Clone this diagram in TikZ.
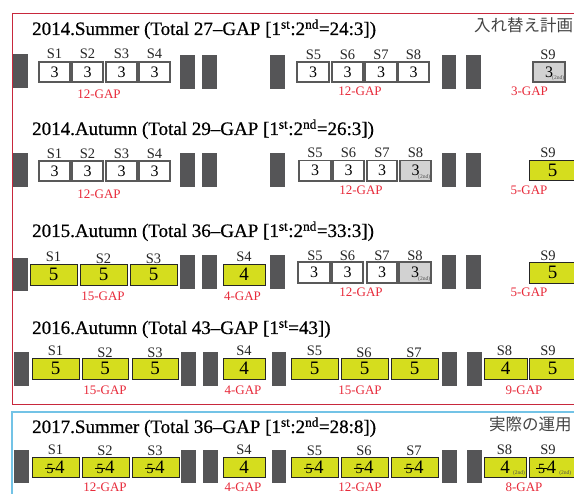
\documentclass[tikz,border=0pt]{standalone}
\usepackage{fontspec}
\setmainfont{Liberation Serif}
\newfontfamily\ttlfont[FakeBold=0.6]{Liberation Serif}
\newfontfamily\jpfont{Noto Sans CJK JP}
\newcommand\fs[1]{\fontsize{#1}{#1}\selectfont}
\newcommand\strk[1]{{\fs{14}\makebox[0pt][l]{\hspace{-0.12em}\rule[0.33em]{0.75em}{0.6pt}}#1}\kern1.5pt}
\definecolor{yel}{RGB}{213,221,30}
\definecolor{barc}{RGB}{85,85,87}
\definecolor{grayf}{RGB}{210,210,210}
\definecolor{redt}{RGB}{232,42,58}
\definecolor{redf}{RGB}{200,40,60}
\definecolor{bluef}{RGB}{115,195,230}
\definecolor{jpc}{RGB}{70,70,70}
\newcommand\bx[7]{\node[#1, minimum width={(#4)-(#3)}, minimum height={(#6)-(#5)}] (#2) at ({((#3)+(#4))/2},{((#5)+(#6))/2}) {#7};}
\tikzset{
  bar/.style={fill=barc, draw=none, inner sep=0pt},
  wbox/.style={fill=white, draw=black!65, line width=1.1pt, inner sep=0pt, font=\fs{16}},
  gbox/.style={wbox, fill=grayf},
  ybox/.style={fill=yel, draw=black!85, line width=0.9pt, inner sep=0pt, font=\fs{19}},
  val/.style={inner sep=0pt, font=\fs{19}},
  slab/.style={inner sep=0pt, font=\fs{14.5}, text=black!85},
  gap/.style={inner sep=0pt, text=redt, font=\fs{13}},
  ttl/.style={inner sep=0pt, anchor=base west, font=\ttlfont\fs{19}},
  nd/.style={inner sep=1.2pt, font=\fs{5.5}, text=black!70},
  nd2/.style={label={[nd, anchor=south east]south east:(2nd)}},
  jpl/.style={inner sep=0pt, anchor=west, text=jpc, font=\jpfont\fs{16.5}},
  redframe/.style={draw=redf, line width=0.9pt},
  blueframe/.style={draw=bluef, line width=1.3pt},
}
\begin{document}
\begin{tikzpicture}[x=1pt,y=-1pt]
\useasboundingbox (0,0) rectangle (574,494);
\clip (0,0) rectangle (574,494);
\fill[white] (0,0) rectangle (574,494);
% frames
\coordinate (rf1) at (580,13); \coordinate (rf2) at (12,13);
\coordinate (rf3) at (12,404); \coordinate (rf4) at (580,404);
\draw[redframe] (rf1) -- (rf2) -- (rf3) -- (rf4);
\coordinate (bf1) at (580,412); \coordinate (bf2) at (12,412); \coordinate (bf3) at (12,500);
\draw[blueframe] (bf1) -- (bf2) -- (bf3);
\node[jpl] (jp1) at (474,25) {入れ替え計画};
\node[jpl] (jp2) at (489,424) {実際の運用};
% ---------------- Row 1
\node[ttl] (t1) at (32,35) {2014.Summer (Total 27–GAP [1\textsuperscript{st}:2\textsuperscript{nd}=24:3])};
\bx{bar}{r1a}{13}{28}{54}{88}{}
\bx{bar}{r1b}{180}{195}{55}{89}{}
\bx{bar}{r1c}{202}{217}{55}{89}{}
\bx{bar}{r1d}{270}{285}{55}{89}{}
\bx{bar}{r1e}{442}{456}{55}{89}{}
\bx{bar}{r1f}{466}{481}{55}{89}{}
\bx{wbox}{r1s1}{39}{70}{62}{82}{3}
\bx{wbox}{r1s2}{72}{103}{62}{82}{3}
\bx{wbox}{r1s3}{106}{137}{62}{82}{3}
\bx{wbox}{r1s4}{139}{170}{62}{82}{3}
\bx{wbox}{r1s5}{297}{329}{62}{82}{3}
\bx{wbox}{r1s6}{332}{363}{62}{82}{3}
\bx{wbox}{r1s7}{365}{397}{62}{82}{3}
\bx{wbox}{r1s8}{398}{429}{62}{82}{3}
\bx{gbox,nd2}{r1s9}{533}{565}{62}{82}{3\hspace{9pt}}
\node[slab] (r1l1) at (54.5,54) {S1};
\node[slab] (r1l2) at (87.5,54) {S2};
\node[slab] (r1l3) at (121.5,54) {S3};
\node[slab] (r1l4) at (154.5,54) {S4};
\node[slab] (r1l5) at (313.5,54.5) {S5};
\node[slab] (r1l6) at (347.5,54.5) {S6};
\node[slab] (r1l7) at (381,54.5) {S7};
\node[slab] (r1l8) at (413.5,54.5) {S8};
\node[slab] (r1l9) at (548,54.5) {S9};
\node[gap] (r1g1) at (99,94) {12-GAP};
\node[gap] (r1g2) at (360,91.5) {12-GAP};
\node[gap] (r1g3) at (529.5,91.5) {3-GAP};
% ---------------- Row 2
\node[ttl] (t2) at (32,135) {2014.Autumn (Total 29–GAP [1\textsuperscript{st}:2\textsuperscript{nd}=26:3])};
\bx{bar}{r2a}{13}{28}{153}{187}{}
\bx{bar}{r2b}{180}{195}{153}{187}{}
\bx{bar}{r2c}{202}{217}{153}{187}{}
\bx{bar}{r2d}{270}{285}{153}{187}{}
\bx{bar}{r2e}{442}{456}{153}{187}{}
\bx{bar}{r2f}{466}{481}{153}{187}{}
\bx{wbox}{r2s1}{39}{70}{161}{181}{3}
\bx{wbox}{r2s2}{72}{103}{161}{181}{3}
\bx{wbox}{r2s3}{106}{137}{161}{181}{3}
\bx{wbox}{r2s4}{139}{170}{161}{181}{3}
\bx{wbox}{r2s5}{299}{331}{160.5}{181}{3}
\bx{wbox}{r2s6}{333}{364}{160.5}{181}{3}
\bx{wbox}{r2s7}{367}{397}{160.5}{181}{3\hspace{10pt}}
\bx{gbox,nd2}{r2s8}{400}{431}{160.5}{181}{3\hspace{13pt}}
\bx{ybox}{r2s9}{529}{576}{160}{180.5}{5}
\node[slab] (r2l1) at (54.5,154) {S1};
\node[slab] (r2l2) at (87.5,154) {S2};
\node[slab] (r2l3) at (121.5,154) {S3};
\node[slab] (r2l4) at (154.5,154) {S4};
\node[slab] (r2l5) at (315,153) {S5};
\node[slab] (r2l6) at (348.5,153) {S6};
\node[slab] (r2l7) at (382,153) {S7};
\node[slab] (r2l8) at (415.5,153) {S8};
\node[slab] (r2l9) at (548,153) {S9};
\node[gap] (r2g1) at (99,194.5) {12-GAP};
\node[gap] (r2g2) at (361,190.5) {12-GAP};
\node[gap] (r2g3) at (529,190.5) {5-GAP};
% ---------------- Row 3
\node[ttl] (t3) at (32,237) {2015.Autumn (Total 36–GAP [1\textsuperscript{st}:2\textsuperscript{nd}=33:3])};
\bx{bar}{r3a}{13}{28}{258}{291}{}
\bx{bar}{r3b}{180}{195}{255}{289}{}
\bx{bar}{r3c}{202}{217}{255}{289}{}
\bx{bar}{r3d}{270}{285}{255}{289}{}
\bx{bar}{r3e}{442}{456}{255}{289}{}
\bx{bar}{r3f}{466}{481}{255}{289}{}
\bx{ybox}{r3s1}{30}{77}{264}{285}{5}
\bx{ybox}{r3s2}{80}{127}{264}{285}{5}
\bx{ybox}{r3s3}{130}{177}{264}{285}{5}
\bx{ybox}{r3s4}{223}{265}{264}{285}{4}
\bx{wbox}{r3s5}{298}{330}{262}{283}{3}
\bx{wbox}{r3s6}{332}{363}{262}{283}{3}
\bx{wbox}{r3s7}{367}{397}{262}{283}{3\hspace{4pt}}
\bx{gbox,nd2}{r3s8}{399}{431}{262}{283}{3\hspace{14pt}}
\bx{ybox}{r3s9}{529}{576}{262}{283}{5}
\node[slab] (r3l1) at (53.5,257) {S1};
\node[slab] (r3l2) at (103.5,258.5) {S2};
\node[slab] (r3l3) at (153.5,258.5) {S3};
\node[slab] (r3l4) at (244,257) {S4};
\node[slab] (r3l5) at (315,255.5) {S5};
\node[slab] (r3l6) at (347.5,255.5) {S6};
\node[slab] (r3l7) at (382,255.5) {S7};
\node[slab] (r3l8) at (415,255.5) {S8};
\node[slab] (r3l9) at (548,255.5) {S9};
\node[gap] (r3g1) at (103,296.5) {15-GAP};
\node[gap] (r3g2) at (242.5,296.5) {4-GAP};
\node[gap] (r3g3) at (361,292) {12-GAP};
\node[gap] (r3g4) at (529,292) {5-GAP};
% ---------------- Row 4
\node[ttl] (t4) at (32,334) {2016.Autumn (Total 43–GAP [1\textsuperscript{st}=43])};
\bx{bar}{r4a}{14}{29}{352}{386}{}
\bx{bar}{r4b}{181}{196}{352}{386}{}
\bx{bar}{r4c}{203}{218}{352}{386}{}
\bx{bar}{r4d}{272}{286}{352}{386}{}
\bx{bar}{r4e}{442}{457}{352}{386}{}
\bx{bar}{r4f}{467}{482}{352}{386}{}
\bx{ybox}{r4s1}{32}{79}{358}{379}{5}
\bx{ybox}{r4s2}{82}{128}{358}{379}{5}
\bx{ybox}{r4s3}{132}{178}{358}{379}{5}
\bx{ybox}{r4s4}{223}{265}{358}{379}{4}
\bx{ybox}{r4s5}{291}{338}{358}{379}{5}
\bx{ybox}{r4s6}{341}{388}{358}{379}{5}
\bx{ybox}{r4s7}{391}{438}{358}{379}{5}
\bx{ybox}{r4s8}{484}{527}{358}{379}{4}
\bx{ybox}{r4s9}{529}{576}{358}{379}{5}
\node[slab] (r4l1) at (55.5,351) {S1};
\node[slab] (r4l2) at (105,352.5) {S2};
\node[slab] (r4l3) at (155,352.5) {S3};
\node[slab] (r4l4) at (244,351) {S4};
\node[slab] (r4l5) at (314.5,351) {S5};
\node[slab] (r4l6) at (364,352.5) {S6};
\node[slab] (r4l7) at (414,352.5) {S7};
\node[slab] (r4l8) at (504.5,351) {S8};
\node[slab] (r4l9) at (548,351) {S9};
\node[gap] (r4g1) at (105,390.5) {15-GAP};
\node[gap] (r4g2) at (243,390.5) {4-GAP};
\node[gap] (r4g3) at (360,390.5) {15-GAP};
\node[gap] (r4g4) at (524,390.5) {9-GAP};
% ---------------- Row 5
\node[ttl] (t5) at (32,433) {2017.Summer (Total 36–GAP [1\textsuperscript{st}:2\textsuperscript{nd}=28:8])};
\bx{bar}{r5a}{14}{29}{450}{483}{}
\bx{bar}{r5b}{181}{196}{450}{483}{}
\bx{bar}{r5c}{203}{218}{450}{483}{}
\bx{bar}{r5d}{272}{286}{450}{483}{}
\bx{bar}{r5e}{442}{457}{450}{483}{}
\bx{bar}{r5f}{467}{482}{450}{483}{}
\bx{ybox}{r5s1}{32}{79}{457}{477}{\strk{5}4}
\bx{ybox}{r5s2}{82}{129}{457}{477}{\strk{5}4}
\bx{ybox}{r5s3}{132}{179}{457}{477}{\strk{5}4}
\bx{ybox}{r5s4}{223}{265}{457}{477}{4}
\bx{ybox}{r5s5}{291}{338}{457}{477}{\strk{5}4}
\bx{ybox}{r5s6}{341}{388}{457}{477}{\strk{5}4}
\bx{ybox}{r5s7}{391}{438}{457}{477}{\strk{5}4}
\bx{ybox,nd2}{r5s8}{484}{526}{457}{477}{4}
\bx{ybox}{r5s9}{529}{578}{457}{477}{}
\node[val] (r5v9) at (547,467.5) {\strk{5}4};
\node[nd, anchor=south west, inner sep=0.6pt] (r5nd) at (558.5,476.5) {(2nd)};
\node[slab] (r5l1) at (55.5,449.5) {S1};
\node[slab] (r5l2) at (105,450.5) {S2};
\node[slab] (r5l3) at (155,450.5) {S3};
\node[slab] (r5l4) at (244,449.5) {S4};
\node[slab] (r5l5) at (314.5,450.5) {S5};
\node[slab] (r5l6) at (364,450.5) {S6};
\node[slab] (r5l7) at (414,450.5) {S7};
\node[slab] (r5l8) at (504.5,450) {S8};
\node[slab] (r5l9) at (548,450) {S9};
\node[gap] (r5g1) at (105,487.5) {12-GAP};
\node[gap] (r5g2) at (243,487.5) {4-GAP};
\node[gap] (r5g3) at (360,487.5) {12-GAP};
\node[gap] (r5g4) at (524,487.5) {8-GAP};
\end{tikzpicture}
\end{document}
